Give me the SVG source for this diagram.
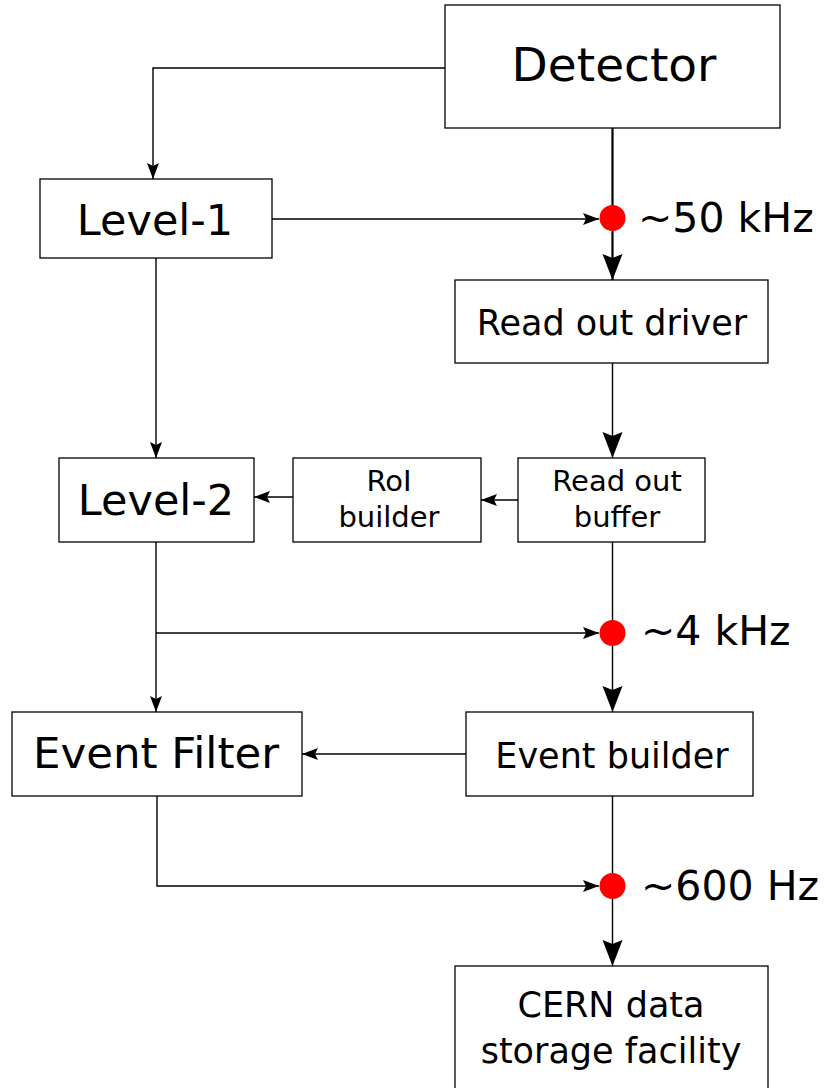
<svg xmlns="http://www.w3.org/2000/svg" width="824" height="1088" viewBox="0 0 824 1088">
<style>
.box{fill:#fff;stroke:#000;stroke-width:1.3}
.t{font-family:"DejaVu Sans",sans-serif;fill:#000;text-anchor:middle}
.ln{fill:none;stroke:#000;stroke-width:1.4}
.th{fill:none;stroke:#000;stroke-width:2.2}
.dot{fill:#f00}
.rate{font-family:"DejaVu Sans",sans-serif;font-size:41px;fill:#000}
</style>
<defs>
<marker id="sa" markerUnits="userSpaceOnUse" markerWidth="20" markerHeight="16" refX="16" refY="6" orient="auto" viewBox="0 0 20 12" overflow="visible">
<path d="M16,6 L0,0 L3,6 L0,12 Z" fill="#000"/>
</marker>
<marker id="la" markerUnits="userSpaceOnUse" markerWidth="30" markerHeight="22" refX="26" refY="10" orient="auto" viewBox="0 0 30 20" overflow="visible">
<path d="M26,10 L0,0 L4,10 L0,20 Z" fill="#000"/>
</marker>
</defs>
<g id="connectors">
<path class="ln" d="M445,68 H153 V179" marker-end="url(#sa)"/>
<path class="ln" d="M272,219 H599" marker-end="url(#sa)"/>
<path class="th" d="M612.5,128 V218"/>
<path class="th" d="M612.5,218 V280" marker-end="url(#la)"/>
<path class="ln" d="M612.5,363 V458" marker-end="url(#la)"/>
<path class="ln" d="M156,258 V458" marker-end="url(#sa)"/>
<path class="ln" d="M518,500 H481" marker-end="url(#sa)"/>
<path class="ln" d="M293,497 H254" marker-end="url(#sa)"/>
<path class="ln" d="M612.5,542 V633"/>
<path class="ln" d="M612.5,633 V712" marker-end="url(#la)"/>
<path class="ln" d="M156,542 V712" marker-end="url(#sa)"/>
<path class="ln" d="M156,633 H599" marker-end="url(#sa)"/>
<path class="ln" d="M466,754 H302" marker-end="url(#sa)"/>
<path class="ln" d="M157,796 V886 H599" marker-end="url(#sa)"/>
<path class="ln" d="M612.5,796 V886"/>
<path class="ln" d="M612.5,886 V966" marker-end="url(#la)"/>
<circle class="dot" cx="612.5" cy="218" r="13"/>
<circle class="dot" cx="612.5" cy="633" r="13"/>
<circle class="dot" cx="612.5" cy="886" r="13"/>
<text class="rate" x="638" y="232">~50 kHz</text>
<text class="rate" x="641" y="645">~4 kHz</text>
<text class="rate" x="641" y="900">~600 Hz</text>
</g>
<g id="detector">
<rect class="box" x="445" y="5" width="335" height="123"/>
<text class="t" x="614" y="81" font-size="47">Detector</text>
</g>
<g id="level1">
<rect class="box" x="40" y="179" width="232" height="79"/>
<text class="t" x="155" y="235" font-size="43">Level-1</text>
</g>
<g id="rod">
<rect class="box" x="455" y="280" width="313" height="83"/>
<text class="t" x="612" y="335" font-size="35">Read out driver</text>
</g>
<g id="level2">
<rect class="box" x="59" y="458" width="195" height="84"/>
<text class="t" x="156" y="515" font-size="43">Level-2</text>
</g>
<g id="roib">
<rect class="box" x="293" y="458" width="188" height="84"/>
<text class="t" x="389" y="491" font-size="29">RoI</text>
<text class="t" x="389" y="527" font-size="29">builder</text>
</g>
<g id="rob">
<rect class="box" x="518" y="458" width="187" height="84"/>
<text class="t" x="617" y="491" font-size="29">Read out</text>
<text class="t" x="617" y="527" font-size="29">buffer</text>
</g>
<g id="ef">
<rect class="box" x="12" y="712" width="290" height="84"/>
<text class="t" x="156" y="768" font-size="43.5">Event Filter</text>
</g>
<g id="eb">
<rect class="box" x="466" y="712" width="287" height="84"/>
<text class="t" x="612" y="768" font-size="35">Event builder</text>
</g>
<g id="cern">
<rect class="box" x="455" y="966" width="313" height="130"/>
<text class="t" x="611" y="1017" font-size="35">CERN data</text>
<text class="t" x="611" y="1063" font-size="35">storage facility</text>
</g>
</svg>
